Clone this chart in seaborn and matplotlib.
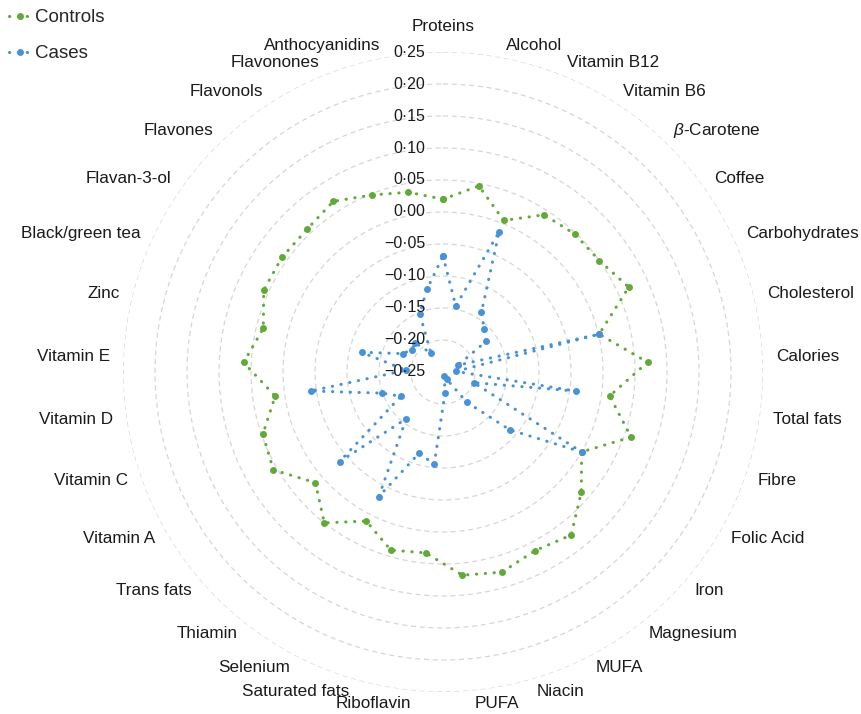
import numpy as np
import pandas as pd
import matplotlib
matplotlib.use("Agg")
import matplotlib.pyplot as plt
import matplotlib.transforms as mtransforms
import seaborn as sns


# -------------------------------------------------
# Datos
# -------------------------------------------------
categorias = [
    "Proteins", "Alcohol", "Vitamin B12", "Vitamin B6", r"$\beta$-Carotene",
    "Coffee", "Carbohydrates", "Cholesterol", "Calories", "Total fats",
    "Fibre", "Folic Acid", "Iron", "Magnesium", "MUFA", "Niacin", "PUFA",
    "Riboflavin", "Saturated fats", "Selenium", "Thiamin", "Trans fats",
    "Vitamin A", "Vitamin C", "Vitamin D", "Vitamin E", "Zinc",
    "Black/green tea", "Flavan-3-ol", "Flavones", "Flavonols", "Flavonones",
    "Anthocyanidins",
]

controls = [
    0.020, 0.046, 0.005, 0.042, 0.048, 0.050, 0.069, 0.001, 0.070, 0.013,
    0.061, 0.000, 0.036, 0.074, 0.064, 0.076, 0.069, 0.034, 0.040, 0.012,
    0.050, 0.014, 0.056, 0.048, 0.015, 0.062, 0.039, 0.058, 0.059, 0.058,
    0.067, 0.048, 0.036,
]

cases = [
    -0.069, -0.145, -0.014, -0.139, -0.157, -0.167, -0.224, 0.000, -0.230,
    -0.040, -0.199, 0.000, -0.112, -0.190, -0.237, -0.243, -0.217, -0.105,
    -0.118, -0.031, -0.157, -0.036, -0.174, -0.149, -0.041, -0.192, -0.119,
    -0.181, -0.190, -0.187, -0.215, -0.152, -0.118,
]

ticks_r = [-0.25, -0.20, -0.15, -0.10, -0.05, 0.00, 0.05, 0.10, 0.15, 0.20, 0.25]
ticks_lab = ["\u22120\u00b725", "\u22120\u00b720", "\u22120\u00b715", "\u22120\u00b710",
             "\u22120\u00b705", "0\u00b700", "0\u00b705", "0\u00b710", "0\u00b715",
             "0\u00b720", "0\u00b725"]

grupos = ["Controls", "Cases"]
colores = {"Controls": "#62A93A", "Cases": "#4A92D8"}


# -------------------------------------------------
# Tabla larga para seaborn
# -------------------------------------------------
n = len(categorias)
angulos = np.linspace(0, 2 * np.pi, n, endpoint=False)
theta_cerrado = list(angulos) + [2 * np.pi]

filas = []
for grupo, valores in zip(grupos, [controls, cases]):
    vals = list(valores) + [valores[0]]
    for t, v in zip(theta_cerrado, vals):
        filas.append({"theta": t, "valor": v, "grupo": grupo})
df = pd.DataFrame(filas)


# -------------------------------------------------
# Figura
# -------------------------------------------------
sns.set_theme(style="white")
plt.rcParams["font.family"] = ["Liberation Sans", "DejaVu Sans"]
plt.rcParams["mathtext.fontset"] = "custom"
plt.rcParams["mathtext.rm"] = "Liberation Sans"
plt.rcParams["mathtext.it"] = "Liberation Sans:italic"

fig = plt.figure(figsize=(8.61, 7.14), dpi=100)
ax = fig.add_axes([0.1429, 0.0308, 0.7433, 0.8964], projection="polar")
ax.set_theta_zero_location("N")
ax.set_theta_direction(-1)

# anillos discontinuos
circ = np.linspace(0, 2 * np.pi, 400)
for v in ticks_r[1:]:
    ax.plot(circ, np.full_like(circ, v), color="#D6D6D6", lw=0.9,
            ls=(0, (4, 3)), zorder=0)

n_prev = len(ax.lines)
sns.lineplot(data=df, x="theta", y="valor", hue="grupo", hue_order=grupos,
             palette=colores, sort=False, estimator=None, marker="o",
             markersize=5.0, markeredgewidth=0, linewidth=2.2, ax=ax)
series = ax.lines[n_prev:]
for ln in series:
    ln.set_linestyle((0, (0.1, 2.8)))
    ln.set_dash_capstyle("round")

if ax.get_legend() is not None:
    ax.get_legend().remove()

ax.set_ylim(-0.25, 0.25)
ax.set_xticks([])
ax.set_yticks([])
ax.grid(False)
ax.spines["polar"].set_visible(False)
ax.set_xlabel("")
ax.set_ylabel("")

# etiquetas del eje radial
trans = mtransforms.offset_copy(ax.transData, fig=fig, x=-18, y=0, units="dots")
for v, lab in zip(ticks_r, ticks_lab):
    ax.text(0, v, lab, transform=trans, ha="right", va="center",
            fontsize=11.5, color="#1a1a1a")

# etiquetas de categorias
r_lab = -0.25 + 333 / 640
for t, lab in zip(angulos, categorias):
    s = np.sin(t)
    if s > 0.05:
        ha = "left"
    elif s < -0.05:
        ha = "right"
    else:
        ha = "center"
    r = r_lab + 0.02 if abs(t) < 1e-9 else r_lab
    ax.text(t, r, lab, ha=ha, va="center", fontsize=12.3, color="#1a1a1a")

fig.legend(handles=series, labels=grupos, loc="upper left",
           bbox_to_anchor=(0.0, 1.0), frameon=False, fontsize=13.5,
           labelspacing=1.0, handlelength=1.15, handletextpad=0.2,
           borderaxespad=0.4, borderpad=0.1)

fig.savefig("out.png", dpi=100)
